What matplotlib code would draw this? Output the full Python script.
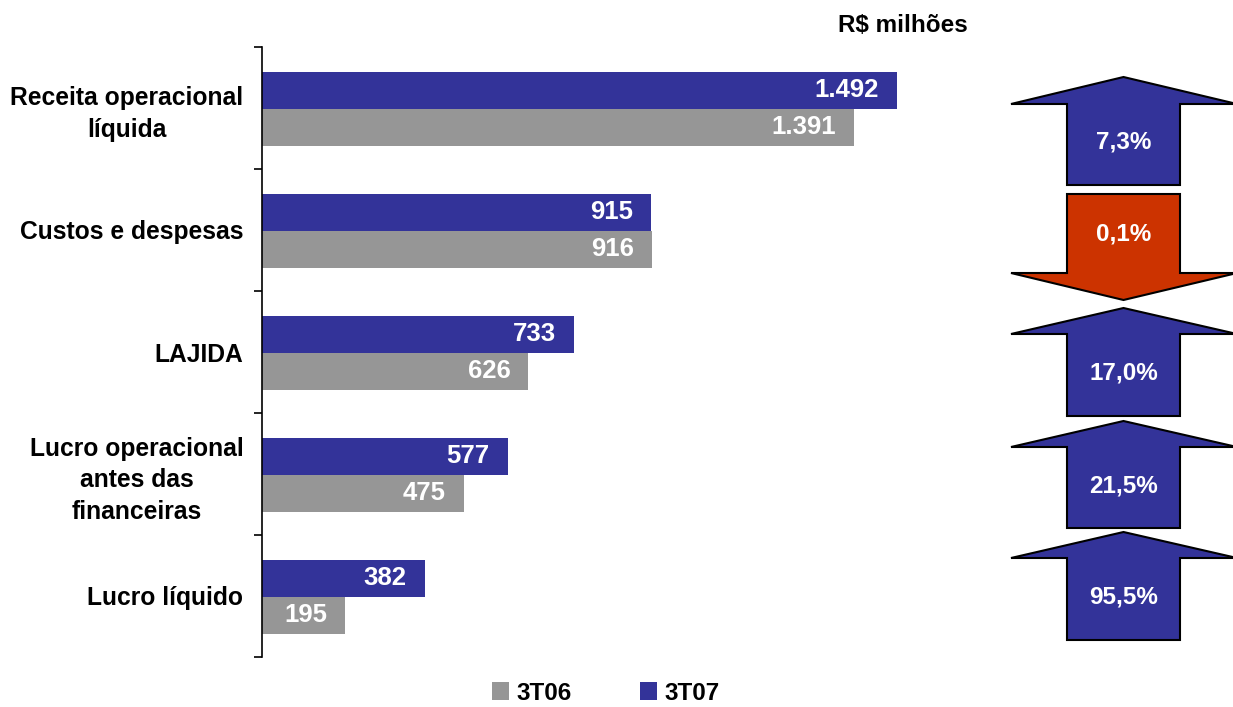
import matplotlib
matplotlib.use("Agg")
import matplotlib.pyplot as plt
from matplotlib.patches import Polygon, Patch
import numpy as np

plt.rcParams['font.family'] = ['Liberation Sans', 'DejaVu Sans']

categories = ["Receita operacional\nlíquida", "Custos e despesas", "LAJIDA",
              "Lucro operacional\nantes das\nfinanceiras", "Lucro líquido"]
v_3t06 = [1391, 916, 626, 475, 195]
v_3t07 = [1492, 915, 733, 577, 382]
lbl_3t06 = ["1.391", "916", "626", "475", "195"]
lbl_3t07 = ["1.492", "915", "733", "577", "382"]
pct_labels = ["7,3%", "0,1%", "17,0%", "21,5%", "95,5%"]
pct_up = [True, False, True, True, True]

BLUE = "#333399"
GRAY = "#969696"
RED = "#CC3300"

W, H = 1233, 707
fig = plt.figure(figsize=(W / 100, H / 100), dpi=100)

# main bar axes (pixel layout)
x0, x1 = 262, 943
y_top, y_bot = 47, 657
ax = fig.add_axes([x0 / W, 1 - y_bot / H, (x1 - x0) / W, (y_bot - y_top) / H])
ax.set_xlim(0, 1600)
ax.set_ylim(len(categories) - 0.5, -0.5)

bh = 0.303
y = np.arange(len(categories)) + 0.006
ax.barh(y - bh / 2, v_3t07, height=bh, color=BLUE)
ax.barh(y + bh / 2, v_3t06, height=bh, color=GRAY)

for i in range(len(categories)):
    ax.annotate(lbl_3t07[i], (v_3t07[i], y[i] - bh / 2), xytext=(-13, 0),
                textcoords='offset points', ha='right', va='center',
                color='white', fontsize=18.5, fontweight='bold')
    ax.annotate(lbl_3t06[i], (v_3t06[i], y[i] + bh / 2), xytext=(-13, 0),
                textcoords='offset points', ha='right', va='center',
                color='white', fontsize=18.5, fontweight='bold')

for s in ['top', 'right', 'bottom']:
    ax.spines[s].set_visible(False)
ax.spines['left'].set_linewidth(1.2)
ax.set_xticks([])
ax.set_yticks(np.arange(len(categories)))
ax.set_yticklabels(categories, fontsize=17.7, fontweight='bold',
                   multialignment='center', linespacing=1.4)
ax.tick_params(axis='y', which='major', length=0, pad=13.5)
ax.set_yticks(np.arange(-0.5, len(categories) + 0.5, 1), minor=True)
ax.tick_params(axis='y', which='minor', length=6, width=1.2, direction='out')

# overlay for arrows & text
ov = fig.add_axes([0, 0, 1, 1])
ov.set_xlim(0, W)
ov.set_ylim(H, 0)
ov.axis('off')

arrows = [(77, 104, 185), (194, 273, 300), (308, 334, 416), (421, 447, 528), (532, 558, 640)]
for i, (a, b, c) in enumerate(arrows):
    sx0, sx1 = 1067, 1180
    cx = (sx0 + sx1) / 2
    hw0, hw1 = 1011, 1237
    if pct_up[i]:
        tip, wing, bottom = a, b, c
        pts = [(cx, tip), (hw1, wing), (sx1, wing), (sx1, bottom), (sx0, bottom),
               (sx0, wing), (hw0, wing)]
        ty = (wing + bottom) / 2 - 2
        col = BLUE
    else:
        top, wing, tip = a, b, c
        pts = [(sx0, top), (sx1, top), (sx1, wing), (hw1, wing), (cx, tip),
               (hw0, wing), (sx0, wing)]
        ty = (top + wing) / 2
        col = RED
    ov.add_patch(Polygon(pts, closed=True, facecolor=col, edgecolor='black',
                         linewidth=1.5, clip_on=False))
    ov.text(cx, ty, pct_labels[i], ha='center', va='center', color='white',
            fontsize=17.5, fontweight='bold')

ov.text(903, 25, "R$ milhões", ha='center', va='center', fontsize=17.5, fontweight='bold')

handles = [Patch(facecolor=GRAY, edgecolor='none', label="3T06"),
           Patch(facecolor=BLUE, edgecolor='none', label="3T07")]
fig.legend(handles=handles, loc='center', bbox_to_anchor=(606 / W, 1 - 693 / H),
           ncol=2, frameon=False, prop={'weight': 'bold', 'size': 17.5},
           handlelength=0.7, handleheight=0.7, handletextpad=0.3, columnspacing=2.8,
           borderpad=0.2)

fig.savefig("out.png", dpi=100)
